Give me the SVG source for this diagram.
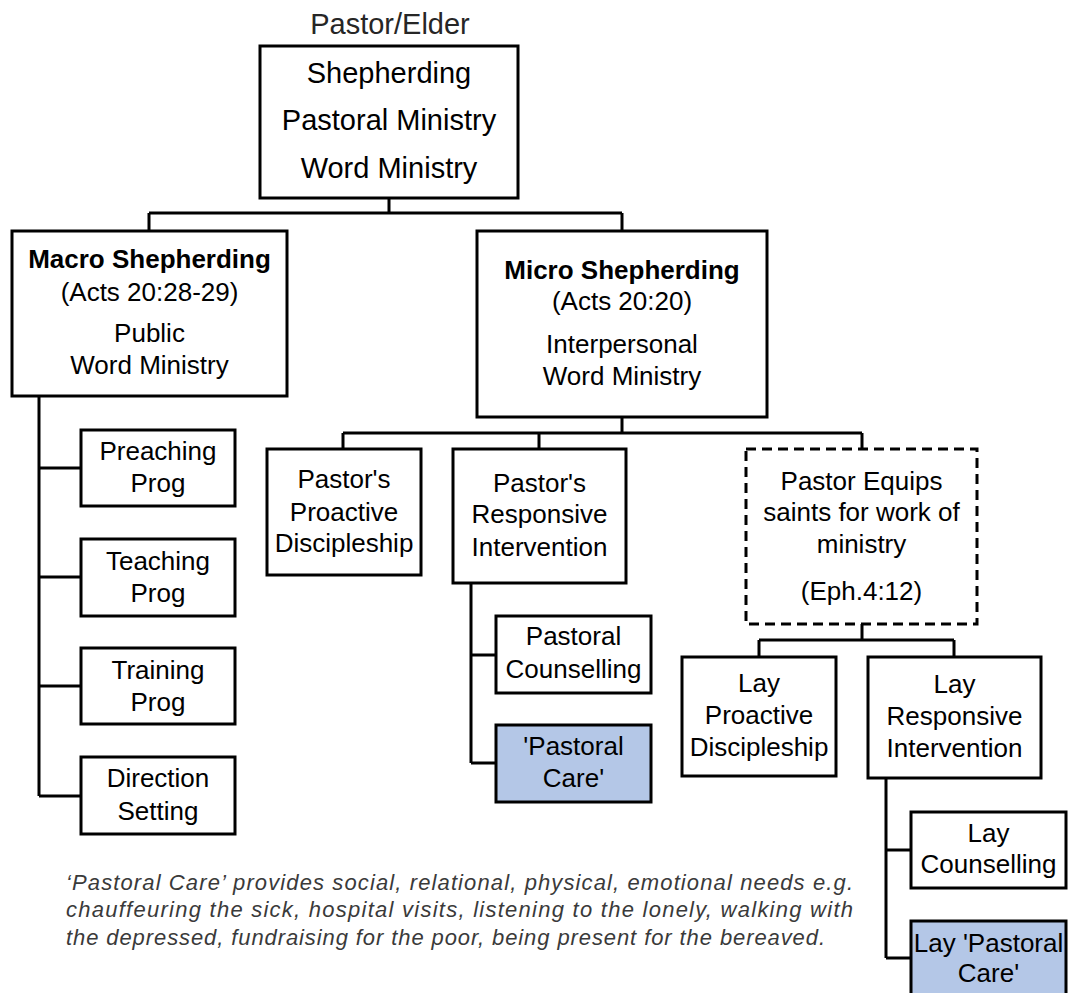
<svg xmlns="http://www.w3.org/2000/svg" width="1083" height="993" viewBox="0 0 1083 993">
<style>
.box{fill:#fff;stroke:#000;stroke-width:3}
.dash{fill:#fff;stroke:#000;stroke-width:3;stroke-dasharray:10 6}
.care{fill:#B4C7E7;stroke:#000;stroke-width:3}
.t{font-family:"Liberation Sans",Arial,sans-serif;font-size:26px;fill:#000;text-anchor:middle}
.big{font-size:29px}
.b{font-weight:bold}
.lt{fill:#262626}
.note{font-family:"Liberation Sans",Arial,sans-serif;font-size:22px;font-style:italic;fill:#3a3a3a}
.c{fill:none;stroke:#000;stroke-width:3}
</style>
<rect width="1083" height="993" fill="#fff"/>
<g id="connectors">
<path class="c" d="M389,198V213M149,213H622M149,213V231M622,213V231"/>
<path class="c" d="M39,396V796M39,468H81M39,577H81M39,686H81M39,796H81"/>
<path class="c" d="M622,417V433M343,433H862M343,433V449M539,433V449M862,433V449"/>
<path class="c" d="M471,583V763M471,655H496M471,763H496"/>
<path class="c" d="M862,624V640M759,640H954M759,640V657M954,640V657"/>
<path class="c" d="M886,778V958M886,850H911M886,958H911"/>
</g>
<g id="top">
<text class="t big lt" x="390" y="34">Pastor/Elder</text>
<rect class="box" x="260" y="46" width="258" height="152"/>
<text class="t big" x="389" y="83">Shepherding</text>
<text class="t big" x="389" y="130">Pastoral Ministry</text>
<text class="t big" x="389" y="178">Word Ministry</text>
</g>
<g id="macro">
<rect class="box" x="12" y="231" width="275" height="165"/>
<text class="t b" x="149.5" y="268">Macro Shepherding</text>
<text class="t" x="149.5" y="301">(Acts 20:28-29)</text>
<text class="t" x="149.5" y="342">Public</text>
<text class="t" x="149.5" y="374">Word Ministry</text>
</g>
<g id="micro">
<rect class="box" x="477" y="231" width="290" height="186"/>
<text class="t b" x="622" y="279">Micro Shepherding</text>
<text class="t" x="622" y="310">(Acts 20:20)</text>
<text class="t" x="622" y="353">Interpersonal</text>
<text class="t" x="622" y="385">Word Ministry</text>
</g>
<g id="preaching">
<rect class="box" x="81" y="430" width="154" height="76"/>
<text class="t" x="158" y="460">Preaching</text>
<text class="t" x="158" y="492">Prog</text>
</g>
<g id="teaching">
<rect class="box" x="81" y="539" width="154" height="77"/>
<text class="t" x="158" y="570">Teaching</text>
<text class="t" x="158" y="602">Prog</text>
</g>
<g id="training">
<rect class="box" x="81" y="648" width="154" height="76"/>
<text class="t" x="158" y="679">Training</text>
<text class="t" x="158" y="711">Prog</text>
</g>
<g id="direction">
<rect class="box" x="81" y="757" width="154" height="77"/>
<text class="t" x="158" y="787">Direction</text>
<text class="t" x="158" y="820">Setting</text>
</g>
<g id="pastorProactive">
<rect class="box" x="267" y="449" width="154" height="126"/>
<text class="t" x="344" y="488">Pastor's</text>
<text class="t" x="344" y="521">Proactive</text>
<text class="t" x="344" y="552">Discipleship</text>
</g>
<g id="pastorResponsive">
<rect class="box" x="453" y="449" width="173" height="134"/>
<text class="t" x="539.5" y="492">Pastor's</text>
<text class="t" x="539.5" y="523">Responsive</text>
<text class="t" x="539.5" y="556">Intervention</text>
</g>
<g id="pastorEquips">
<rect class="dash" x="746" y="449" width="231" height="175"/>
<text class="t" x="861.5" y="490">Pastor Equips</text>
<text class="t" x="861.5" y="521">saints for work of</text>
<text class="t" x="861.5" y="553">ministry</text>
<text class="t" x="861.5" y="600">(Eph.4:12)</text>
</g>
<g id="pastoralCounselling">
<rect class="box" x="496" y="616" width="155" height="77"/>
<text class="t" x="573.5" y="645">Pastoral</text>
<text class="t" x="573.5" y="678">Counselling</text>
</g>
<g id="pastoralCare">
<rect class="care" x="496" y="725" width="155" height="77"/>
<text class="t" x="573.5" y="755">'Pastoral</text>
<text class="t" x="573.5" y="787">Care'</text>
</g>
<g id="layProactive">
<rect class="box" x="682" y="657" width="154" height="119"/>
<text class="t" x="759" y="692">Lay</text>
<text class="t" x="759" y="724">Proactive</text>
<text class="t" x="759" y="756">Discipleship</text>
</g>
<g id="layResponsive">
<rect class="box" x="868" y="657" width="173" height="121"/>
<text class="t" x="954.5" y="693">Lay</text>
<text class="t" x="954.5" y="725">Responsive</text>
<text class="t" x="954.5" y="757">Intervention</text>
</g>
<g id="layCounselling">
<rect class="box" x="911" y="812" width="155" height="76"/>
<text class="t" x="988.5" y="842">Lay</text>
<text class="t" x="988.5" y="873">Counselling</text>
</g>
<g id="layPastoralCare">
<rect class="care" x="911" y="921" width="155" height="80"/>
<text class="t" x="988.5" y="952">Lay 'Pastoral</text>
<text class="t" x="988.5" y="982">Care'</text>
</g>
<g id="note">
<text class="note" x="66" y="890" textLength="787" lengthAdjust="spacing">‘Pastoral Care’ provides social, relational, physical, emotional needs e.g.</text>
<text class="note" x="66" y="917" textLength="787" lengthAdjust="spacing">chauffeuring the sick, hospital visits, listening to the lonely, walking with</text>
<text class="note" x="66" y="945" textLength="759" lengthAdjust="spacing">the depressed, fundraising for the poor, being present for the bereaved.</text>
</g>
</svg>
